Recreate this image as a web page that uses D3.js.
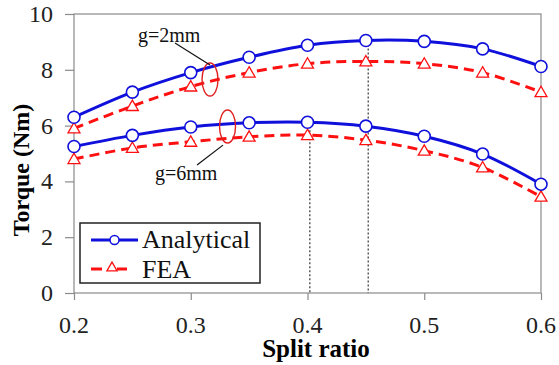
<!DOCTYPE html>
<html>
<head>
<meta charset="utf-8">
<script src="https://cdn.jsdelivr.net/npm/d3@7"></script>
<style>
  body { margin: 0; background: #fff; }
  svg text { font-family: "Liberation Serif", "Times New Roman", serif; }
</style>
</head>
<body>
<main></main>
<script>
// split ratio samples
const splitRatio = [0.2, 0.25, 0.3, 0.35, 0.4, 0.45, 0.5, 0.55, 0.6]
// torque (Nm), g = 2mm
const analytical2 = [6.3, 7.2, 7.9, 8.45, 8.88, 9.05, 9.02, 8.75, 8.12]
const fea2 = [5.9, 6.7, 7.4, 7.9, 8.22, 8.3, 8.22, 7.9, 7.2]
// torque (Nm), g = 6mm
const analytical6 = [5.25, 5.65, 5.95, 6.1, 6.12, 5.98, 5.62, 4.98, 3.9]
const fea6 = [4.8, 5.2, 5.42, 5.6, 5.66, 5.48, 5.1, 4.5, 3.45]
// optimum split ratio markers [split, torque at top]
const optimum = [[0.402, 6.12], [0.452, 9.05]]
const xTicks = [0.2, 0.3, 0.4, 0.5, 0.6]
const yTicks = [0, 2, 4, 6, 8, 10]

const w = 559
const h = 365
const margin = { top: 14, right: 18, bottom: 72, left: 74 }

const svg = d3.select("main").append("svg")
  .attr("width", w)
  .attr("height", h)

const x = d3.scaleLinear().domain([0.2, 0.6]).range([margin.left, w - margin.right])
const y = d3.scaleLinear().domain([0, 10]).range([h - margin.bottom, margin.top])

// frame
svg.append("rect")
  .attr("x", x(0.2)).attr("y", y(10))
  .attr("width", x(0.6) - x(0.2)).attr("height", y(0) - y(10))
  .attr("fill", "none").attr("stroke", "#8a8a8a").attr("stroke-width", 1.2)

// axes: ticks from d3, labels drawn as serif text below
const xAxis = svg.append("g")
  .attr("transform", `translate(0,${y(0)})`)
  .call(d3.axisBottom(x).tickValues(xTicks).tickSize(7).tickFormat(""))
const yAxis = svg.append("g")
  .attr("transform", `translate(${x(0.2)},0)`)
  .call(d3.axisLeft(y).tickValues(yTicks).tickSize(9).tickFormat(""))

xAxis.select(".domain").remove()
yAxis.select(".domain").remove()
svg.selectAll(".tick line").attr("stroke", "#8a8a8a").attr("stroke-width", 1.2)

svg.selectAll(".xlab")
  .data(xTicks)
  .enter()
  .append("text")
  .attr("class", "xlab")
  .attr("x", (d) => x(d))
  .attr("y", y(0) + 40)
  .attr("text-anchor", "middle")
  .style("font-family", "'Liberation Serif', serif")
  .style("font-size", "24px")
  .attr("fill", "#222")
  .text(d3.format(".1f"))

svg.selectAll(".ylab")
  .data(yTicks)
  .enter()
  .append("text")
  .attr("class", "ylab")
  .attr("x", x(0.2) - 21)
  .attr("y", (d) => y(d) + 8)
  .attr("text-anchor", "end")
  .style("font-family", "'Liberation Serif', serif")
  .style("font-size", "24px")
  .attr("fill", "#222")
  .text((d) => d)

// optimum dotted lines
svg.selectAll(".opt")
  .data(optimum)
  .enter()
  .append("line")
  .attr("x1", (d) => x(d[0])).attr("x2", (d) => x(d[0]))
  .attr("y1", (d) => y(d[1])).attr("y2", y(0))
  .attr("stroke", "#444").attr("stroke-width", 1.3).attr("stroke-dasharray", "2,2")

const line = d3.line()
  .x((d, i) => x(splitRatio[i]))
  .y((d) => y(d))
  .curve(d3.curveCardinal.tension(0))

const red = "#ff1010"
const blue = "#1010dc"
const tri = d3.symbol().type(d3.symbolTriangle).size(62)

const drawFea = (vals) => {
  svg.append("path").datum(vals).attr("d", line)
    .attr("fill", "none").attr("stroke", red).attr("stroke-width", 3)
    .attr("stroke-dasharray", "10,6")
  svg.append("g").selectAll("path").data(vals).enter().append("path")
    .attr("d", tri)
    .attr("transform", (d, i) => `translate(${x(splitRatio[i])},${y(d) + 1})`)
    .attr("fill", "#fff").attr("stroke", red).attr("stroke-width", 1.3)
}
const drawAna = (vals) => {
  svg.append("path").datum(vals).attr("d", line)
    .attr("fill", "none").attr("stroke", blue).attr("stroke-width", 3)
  svg.append("g").selectAll("circle").data(vals).enter().append("circle")
    .attr("cx", (d, i) => x(splitRatio[i])).attr("cy", (d) => y(d))
    .attr("r", 6)
    .attr("fill", "#fff").attr("stroke", blue).attr("stroke-width", 1.6)
}
drawFea(fea2)
drawFea(fea6)
drawAna(analytical2)
drawAna(analytical6)

// gap annotations
const notes = [
  { label: "g=2mm", tx: 0.2548, ty: 9.0, l: [[0.2865, 8.96], [0.3165, 8.17]], e: [0.3165, 7.65] },
  { label: "g=6mm", tx: 0.2694, ty: 4.05, l: [[0.3054, 4.59], [0.3276, 5.3]], e: [0.3315, 5.97] },
]
notes.forEach((n) => {
  svg.append("ellipse")
    .attr("cx", x(n.e[0])).attr("cy", y(n.e[1]))
    .attr("rx", 8).attr("ry", 16.5)
    .attr("fill", "none").attr("stroke", "#e02020").attr("stroke-width", 1.4)
  svg.append("line")
    .attr("x1", x(n.l[0][0])).attr("y1", y(n.l[0][1]))
    .attr("x2", x(n.l[1][0])).attr("y2", y(n.l[1][1]))
    .attr("stroke", "#111").attr("stroke-width", 1.2)
  svg.append("text")
    .attr("x", x(n.tx)).attr("y", y(n.ty))
    .attr("font-size", "20px").attr("fill", "#111")
    .text(n.label)
})

// axis titles
svg.append("text")
  .attr("x", 316).attr("y", 357)
  .attr("text-anchor", "middle")
  .attr("font-size", "25px").attr("font-weight", "bold")
  .text("Split ratio")
svg.append("text")
  .attr("transform", "translate(29,170) rotate(-90)")
  .attr("text-anchor", "middle")
  .attr("font-size", "24px").attr("font-weight", "bold")
  .text("Torque (Nm)")

// legend
const legend = svg.append("g").attr("id", "legend")
legend.append("rect")
  .attr("x", 80).attr("y", 223).attr("width", 180).attr("height", 60)
  .attr("fill", "#fff").attr("stroke", "#222").attr("stroke-width", 1.5)
legend.append("line")
  .attr("x1", 91).attr("x2", 138).attr("y1", 240).attr("y2", 240)
  .attr("stroke", blue).attr("stroke-width", 3)
legend.append("circle")
  .attr("cx", 114.5).attr("cy", 240).attr("r", 4.5)
  .attr("fill", "#fff").attr("stroke", blue).attr("stroke-width", 1.5)
legend.append("line")
  .attr("x1", 91).attr("x2", 127).attr("y1", 269).attr("y2", 269)
  .attr("stroke", red).attr("stroke-width", 3).attr("stroke-dasharray", "11,15,10")
legend.append("path")
  .attr("d", d3.symbol().type(d3.symbolTriangle).size(45))
  .attr("transform", "translate(112,268)")
  .attr("fill", "#fff").attr("stroke", red).attr("stroke-width", 1.3)
legend.selectAll(".legend-text")
  .data(["Analytical", "FEA"])
  .enter()
  .append("text")
  .attr("class", "legend-text")
  .attr("x", 142)
  .attr("y", (d, i) => 248 + i * 30)
  .attr("font-size", "26px").attr("fill", "#111")
  .text((d) => d)
</script>
</body>
</html>
